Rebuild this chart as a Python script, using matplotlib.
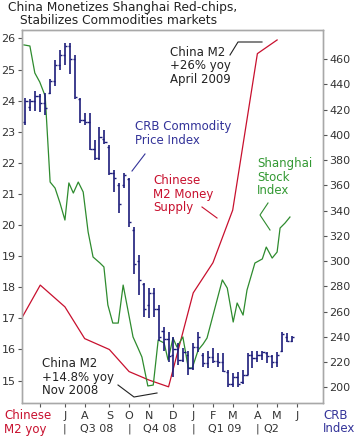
import matplotlib
matplotlib.use("Agg")
import matplotlib.pyplot as plt
from matplotlib.lines import Line2D

# x axis: weekly index, 0 = first week of June 2008
tick_weeks = [0, 5, 9, 14, 18, 22, 27, 31, 35, 39, 44, 48, 52]
tick_labels = ["", "J", "A", "S", "O", "N", "D", "J", "F", "M", "A", "M", "J"]
quarter_sep = [5, 18, 31, 44]
quarter_pos = [11.5, 24.3, 37.3, 46.8]
quarter_labels = ["Q3 08", "Q4 08", "Q1 09", "Q2"]

# China M2 yoy (%), monthly
m2_week = [-4, 0, 5, 9, 14, 18, 22, 26, 31, 35, 39, 44, 48]
m2_yoy = [16.94, 18.07, 17.37, 16.35, 16.0, 15.29, 15.02, 14.8, 17.82, 18.79, 20.48, 25.51, 25.95]

# Shanghai stock index
sh_week = [-3.3, -2.1, -1.1, -0.1, 1.0, 2.0, 3.0, 4.0, 5.0, 5.8, 6.7, 7.7, 8.7, 9.7,
           10.7, 12.1, 12.9, 13.7, 14.7, 15.8, 16.8, 17.8, 18.8, 19.8, 20.6, 21.8,
           22.9, 23.9, 25.1, 25.9, 26.9, 27.7, 28.9, 30.0, 30.8, 32.0, 33.0, 33.8,
           35.4, 36.9, 37.9, 39.1, 39.9, 41.1, 41.9, 43.5, 45.0, 45.8, 47.0, 48.0,
           48.6, 49.6, 50.6]
sh_val = [3616, 3610, 3458, 3407, 3328, 2844, 2810, 2726, 2630, 2839, 2782, 2844,
          2788, 2563, 2422, 2388, 2366, 2152, 2050, 2050, 2264, 2118, 1972, 1910,
          1859, 1696, 1701, 1955, 1938, 1842, 1966, 1915, 1972, 1797, 1797, 1898,
          1932, 1966, 2135, 2293, 2247, 2056, 2163, 2095, 2236, 2388, 2411, 2478,
          2416, 2450, 2585, 2613, 2647]

# CRB weekly bars
crb_week = list(range(-3, 52))
crb_open = [410, 422, 427, 431, 425, 433, 443, 455, 463, 470, 460, 428, 412, 410,
            389, 382, 397, 390, 370, 360, 360, 365, 325, 300, 282, 265, 275, 262,
            245, 238, 226, 230, 222, 226, 215, 232, 226, 219, 224, 221, 220, 212,
            203, 208, 204, 210, 226, 223, 226, 227, 225, 220, 229, 240, 237]
crb_high = [429, 428, 435, 432, 433, 444, 459, 467, 473, 473, 463, 429, 417, 417,
            396, 406, 404, 392, 372, 362, 370, 366, 327, 305, 283, 279, 279, 265,
            248, 244, 240, 235, 231, 229, 235, 244, 227, 229, 231, 227, 227, 214,
            211, 212, 214, 227, 229, 229, 229, 228, 226, 228, 244, 243, 241]
crb_low = [408, 419, 419, 418, 416, 432, 439, 451, 455, 448, 428, 409, 408, 388,
           380, 380, 393, 368, 355, 338, 358, 327, 290, 273, 256, 255, 256, 237,
           229, 220, 208, 218, 220, 210, 214, 228, 216, 215, 219, 216, 212, 200,
           200, 200, 203, 210, 215, 220, 222, 219, 215, 216, 228, 236, 236]
crb_close = [427, 427, 431, 425, 421, 443, 455, 463, 470, 460, 430, 412, 410, 389,
             382, 398, 394, 370, 366, 345, 368, 331, 298, 285, 262, 275, 262, 240,
             238, 225, 230, 222, 228, 215, 232, 240, 219, 224, 221, 220, 213, 203,
             208, 203, 210, 226, 223, 226, 228, 225, 220, 226, 242, 237, 240]

red = "#c8102e"
green = "#2e8b2e"
navy = "#1c1c7a"
grey = "#a8a8a8"

fig = plt.figure(figsize=(3.59, 4.40), dpi=100)
ax = fig.add_axes([22 / 359, 37 / 440, 301 / 359, 373 / 440])
ax3 = ax.twinx()
ax2 = ax.twinx()

ax.plot(m2_week, m2_yoy, color=red, lw=0.9)
ax3.plot(sh_week, sh_val, color=green, lw=0.9)
ax2.vlines(crb_week, crb_low, crb_high, color=navy, lw=1.2)
ax2.hlines(crb_open, [w - 0.45 for w in crb_week], crb_week, color=navy, lw=1.0)
ax2.hlines(crb_close, crb_week, [w + 0.45 for w in crb_week], color=navy, lw=1.0)

ax.set_xlim(-3.7, 57.3)
ax.set_ylim(14.28, 26.27)
ax2.set_ylim(187.6, 483.0)
ax3.set_ylim(1600, 3700)

ax.set_yticks(range(15, 27))
ax2.set_yticks(range(200, 461, 20))
ax.set_xticks(tick_weeks)
ax.set_xticklabels(tick_labels)
ax3.set_yticks([])

ax.tick_params(axis="y", direction="out", length=3, width=0.8, color="#555",
               labelsize=8, labelcolor="#333", pad=1.5)
ax2.tick_params(axis="y", direction="out", length=3, width=0.8, color="#555",
                labelsize=8, labelcolor="#333", pad=1.5)
ax.tick_params(axis="x", direction="out", length=3, width=0.8, color="#555",
               labelsize=8, labelcolor="#333", pad=2.5)

for a in (ax, ax2, ax3):
    for s in a.spines.values():
        s.set_color(grey)
        s.set_linewidth(0.9)

# quarter row
for w in quarter_sep:
    ax.text(w, -0.07, "|", transform=ax.get_xaxis_transform(), ha="center",
            va="center", fontsize=8, color="#333")
for w, q in zip(quarter_pos, quarter_labels):
    ax.text(w, -0.07, q, transform=ax.get_xaxis_transform(), ha="center",
            va="center", fontsize=8, color="#333")


def fx(px):
    return px / 359


def fy(py):
    return 1 - py / 440


fig.text(fx(8), fy(7), "China Monetizes Shanghai Red-chips,", fontsize=8.8,
         color="#222", va="center")
fig.text(fx(20), fy(20), "Stabilizes Commodities markets", fontsize=8.8,
         color="#222", va="center")

fig.text(fx(4), fy(415), "Chinese", fontsize=8.5, color=red, va="center")
fig.text(fx(4), fy(429), "M2 yoy", fontsize=8.5, color=red, va="center")
fig.text(fx(323), fy(415), "CRB", fontsize=8.5, color="#333399", va="center")
fig.text(fx(323), fy(428), "Index", fontsize=8.5, color="#333399", va="center")

notes = [
    (170, 66, "China M2\n+26% yoy\nApril 2009", "#222"),
    (135, 133.5, "CRB Commodity\nPrice Index", "#333399"),
    (153, 194, "Chinese\nM2 Money\nSupply", red),
    (257, 177, "Shanghai\nStock\nIndex", "#339933"),
    (42, 377, "China M2\n+14.8% yoy\nNov 2008", "#222"),
]
for x, y, s, c in notes:
    fig.text(fx(x), fy(y), s, fontsize=8.5, color=c, va="center", ha="left",
             linespacing=1.05)

leaders = [
    ([230, 238, 262], [55, 42, 42], "#222"),
    ([118, 134, 157], [385, 397, 393], "#222"),
    ([145, 132], [154, 171], "#333399"),
    ([202, 217], [207, 218], red),
    ([268, 260, 270], [203, 215, 230], green),
]
for xs, ys, c in leaders:
    fig.add_artist(Line2D([fx(v) for v in xs], [fy(v) for v in ys], color=c, lw=0.8))

fig.savefig("out.png", dpi=100)
